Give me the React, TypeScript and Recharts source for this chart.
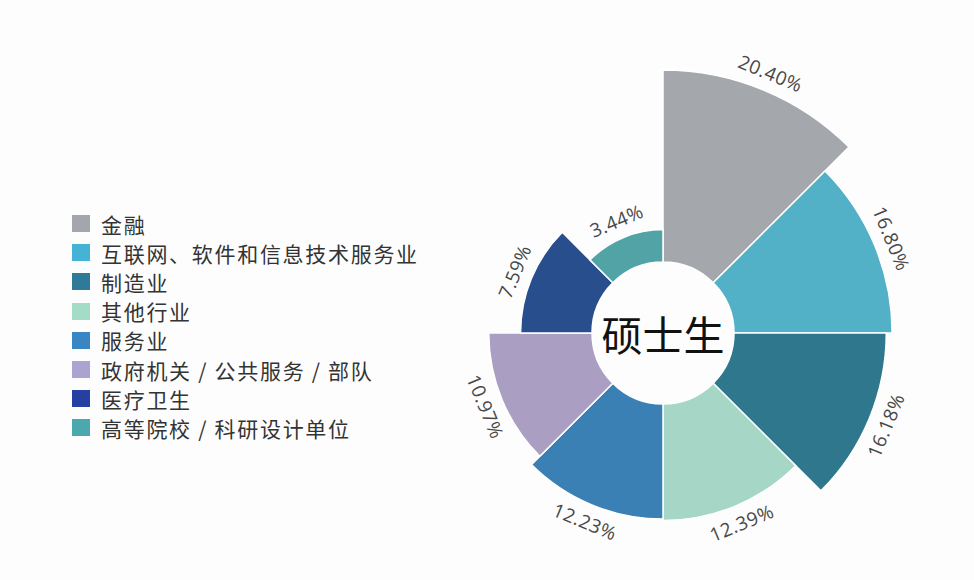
import React from "react";
import { Cell, Pie, PieChart } from "recharts";

const industries = [
  "金融",
  "互联网、软件和信息技术服务业",
  "制造业",
  "其他行业",
  "服务业",
  "政府机关 / 公共服务 / 部队",
  "医疗卫生",
  "高等院校 / 科研设计单位",
];
const shares = [20.4, 16.8, 16.18, 12.39, 12.23, 10.97, 7.59, 3.44];
const sectorColors = ["#a4a8ad", "#52b1c7", "#2e778c", "#a6d7c6", "#3a80b4", "#aa9fc3", "#294e8e", "#52a3a6"];
const legendColors = ["#a3a6ad", "#44b3d6", "#2f7a99", "#a5dcc8", "#3a86c2", "#aba3d0", "#2540a0", "#4aa8ae"];

const CX = 663;
const CY = 333;
const INNER = 71;
const OUTER = 263;
const maxShare = Math.max(...shares);
// nightingale rose: each petal's radius grows linearly with its share
const radiusOf = (v: number) => INNER + ((OUTER - INNER) * v) / maxShare;
const step = 360 / industries.length;
const RAD = Math.PI / 180;

function renderLabel(props: any) {
  const { cx, cy, midAngle, outerRadius, value } = props;
  const r = outerRadius + 18;
  const x = cx + r * Math.cos(midAngle * RAD);
  const y = cy - r * Math.sin(midAngle * RAD);
  const rot = Math.sin(midAngle * RAD) >= 0 ? 90 - midAngle : -90 - midAngle;
  return (
    <text
      x={x}
      y={y}
      transform={`rotate(${rot} ${x} ${y})`}
      textAnchor="middle"
      dominantBaseline="central"
      fontFamily="'Open Sans', sans-serif"
      fontSize={19}
      letterSpacing={0.5}
      fill="#484848"
    >
      {Number(value).toFixed(2)}%
    </text>
  );
}

export default function App() {
  return (
    <div style={{ position: "absolute", left: 0, top: 0, width: 974, height: 580, background: "#fdfdfd" }}>
      <PieChart width={974} height={580} margin={{ top: 0, right: 0, bottom: 0, left: 0 }}>
        {industries.map((name, i) => (
          <Pie
            key={name}
            data={[{ name, value: shares[i] }]}
            dataKey="value"
            nameKey="name"
            cx={CX}
            cy={CY}
            innerRadius={INNER}
            outerRadius={radiusOf(shares[i])}
            startAngle={90 - i * step}
            endAngle={90 - (i + 1) * step}
            stroke="#ffffff"
            strokeWidth={1.5}
            label={renderLabel}
            labelLine={false}
            isAnimationActive={false}
          >
            <Cell fill={sectorColors[i]} />
          </Pie>
        ))}
      </PieChart>
      <div
        style={{
          position: "absolute",
          left: 600,
          top: 310,
          width: 126,
          textAlign: "center",
          fontFamily: "'Noto Sans CJK SC', sans-serif",
          fontSize: 41,
          lineHeight: "46px",
          color: "#111",
        }}
      >
        硕士生
      </div>
      <div style={{ position: "absolute", left: 72, top: 209, fontFamily: "'Noto Sans CJK SC', sans-serif" }}>
        {industries.map((name, i) => (
          <div key={name} style={{ display: "flex", alignItems: "center", height: 29.2 }}>
            <span style={{ width: 18, height: 17, background: legendColors[i], marginRight: 11 }} />
            <span style={{ fontSize: 21, color: "#333", letterSpacing: 1.7, whiteSpace: "nowrap" }}>{name}</span>
          </div>
        ))}
      </div>
    </div>
  );
}
